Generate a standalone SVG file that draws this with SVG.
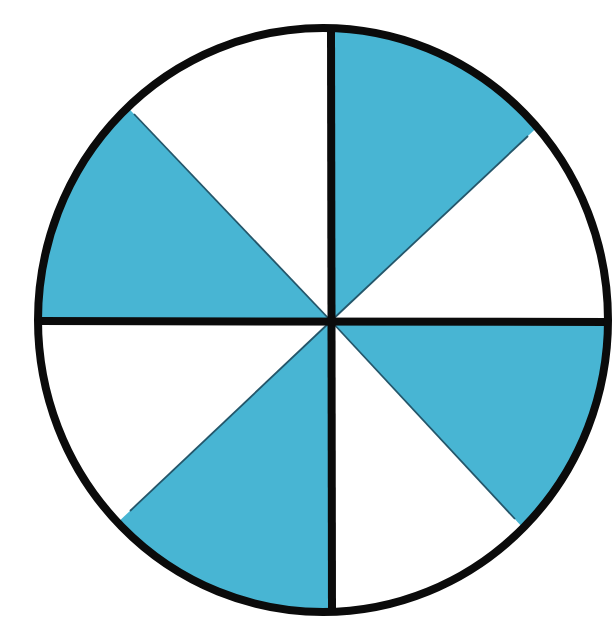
<svg xmlns="http://www.w3.org/2000/svg" width="616" height="623" viewBox="0 0 616 623">
<style>
.shade{fill:#48b5d3}
.edge{stroke:#24566a;stroke-width:1.8;fill:none}
.bold{stroke:#0b0b0b;fill:none}
</style>
<defs>
<clipPath id="disc"><ellipse cx="323" cy="320" rx="285" ry="292"/></clipPath>
</defs>
<rect width="616" height="623" fill="#ffffff"/>
<g id="sectors" clip-path="url(#disc)">
<polygon id="sector-top-right" class="shade" points="331,321 331,-240 928,-240"/>
<polygon id="sector-right-lower" class="shade" points="331,321 900,321 900,934"/>
<polygon id="sector-bottom-left" class="shade" points="331,321 331,900 -282,900"/>
<polygon id="sector-left-upper" class="shade" points="331,321 -260,321 -260,-300"/>
</g>
<g id="connectors">
<line class="edge" x1="331" y1="321" x2="528" y2="136"/>
<line class="edge" x1="331" y1="321" x2="515" y2="519"/>
<line class="edge" x1="331" y1="321" x2="130" y2="511"/>
<line class="edge" x1="331" y1="321" x2="134" y2="114"/>
<line class="bold" stroke-width="8" x1="331" y1="28" x2="332" y2="613"/>
<line class="bold" stroke-width="8" x1="38" y1="321" x2="608" y2="322"/>
</g>
<g id="circle">
<ellipse class="bold" stroke-width="8" cx="323" cy="320" rx="285" ry="292"/>
</g>
</svg>
